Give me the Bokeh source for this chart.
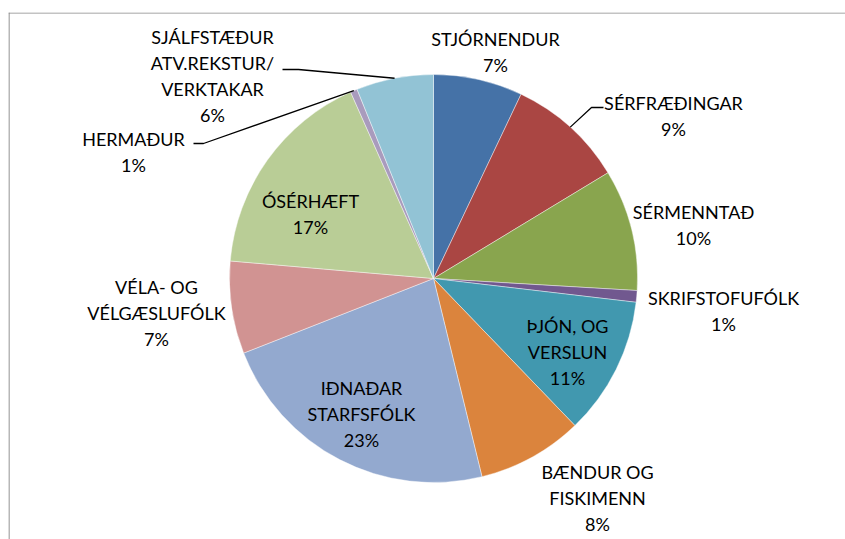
import math
from bokeh.plotting import figure
from bokeh.models import ColumnDataSource, Span, Range1d
from bokeh.core.properties import value
from bokeh.embed import file_html
from bokeh.resources import INLINE

# ---- data ----
categories = [
    "STJÓRNENDUR",
    "SÉRFRÆÐINGAR",
    "SÉRMENNTAÐ",
    "SKRIFSTOFUFÓLK",
    "ÞJÓN, OG\nVERSLUN",
    "BÆNDUR OG\nFISKIMENN",
    "IÐNAÐAR\nSTARFSFÓLK",
    "VÉLA- OG\nVÉLGÆSLUFÓLK",
    "ÓSÉRHÆFT",
    "HERMAÐUR",
    "SJÁLFSTÆÐUR\nATV.REKSTUR/\nVERKTAKAR",
]
shares = [7.06, 9.27, 9.61, 0.92, 10.95, 8.37, 22.86, 7.33, 16.97, 0.55, 6.11]
colors = ["#4572A7", "#AA4643", "#89A54E", "#71588F", "#4198AF", "#DB843D",
          "#93A9CF", "#D19392", "#B9CD96", "#A99BBD", "#92C3D5"]

# ---- layout (screen px relative to pie centre; first-line baseline) ----
label_pos = [
    (62, -234), (240, -170), (260, -61), (290, 25), (134, 53), (164, 199),
    (-72, 115), (-277, 14), (-123, -72), (-300, -134), (-221, -236),
]
TEXT_SHIFT = -6   # baseline correction for the renderer
# leader lines: (elbow, end) in screen px relative to centre, or None
leaders = [None, ((158, -171), (170, -171)), None, None, None, None, None,
           None, None, ((-230, -135), (-240, -135)), ((-135, -209), (-151, -209))]

R = 204
LINE_H = 26
FONT = "Lato"
FSIZE = "18px"

W, H = 845, 539
CX, CY = 433, 278          # pie centre on the canvas
FL, FT = 8, 12             # frame left / top on the canvas
p = figure(width=W, height=H, x_range=Range1d(FL - CX, W - CX),
           y_range=Range1d(CY - H, CY - FT),
           output_backend="svg", toolbar_location=None,
           x_axis_type=None, y_axis_type=None,
           min_border_left=FL, min_border_right=0, min_border_bottom=0, min_border_top=FT)
p.grid.visible = False
p.outline_line_color = None
p.background_fill_color = "white"

total = sum(shares)
starts, ends, mids = [], [], []
cum = 0.0
for s in shares:
    a0 = math.pi / 2 - 2 * math.pi * cum / total
    cum += s
    a1 = math.pi / 2 - 2 * math.pi * cum / total
    starts.append(a0)
    ends.append(a1)
    mids.append((a0 + a1) / 2)

src = ColumnDataSource(dict(start=starts, end=ends, color=colors, cat=categories))
p.wedge(x=0, y=0, radius=R, start_angle="start", end_angle="end", direction="clock",
        fill_color="color", line_color="white", line_width=0.6, line_alpha=0.7, source=src)

# labels
tx, ty, tt = [], [], []
for cat, s, (lx, ly) in zip(categories, shares, label_pos):
    lines = cat.split("\n") + [f"{round(100 * s / total)}%"]
    for i, ln in enumerate(lines):
        tx.append(lx)
        ty.append(-(ly + TEXT_SHIFT + i * LINE_H))
        tt.append(ln)
p.text(x=tx, y=ty, text=tt, text_font=value(FONT), text_font_size=FSIZE,
       text_align="center", text_baseline="alphabetic", text_color="black")

# leader lines
xs, ys = [], []
for m, ld in zip(mids, leaders):
    if ld is None:
        continue
    (ex, ey), (fx, fy) = ld
    xs.append([R * math.cos(m), ex, fx])
    ys.append([R * math.sin(m), -ey, -fy])
p.multi_line(xs=xs, ys=ys, line_color="black", line_width=1.3)

# chart-area frame (left and top edges visible)
p.add_layout(Span(location=FL - CX + 0.5, dimension="height", line_color="#878787", line_width=1.2))
p.add_layout(Span(location=CY - FT - 0.5, dimension="width", line_color="#878787", line_width=1.2))

open("out.html", "w").write(file_html(p, INLINE))
